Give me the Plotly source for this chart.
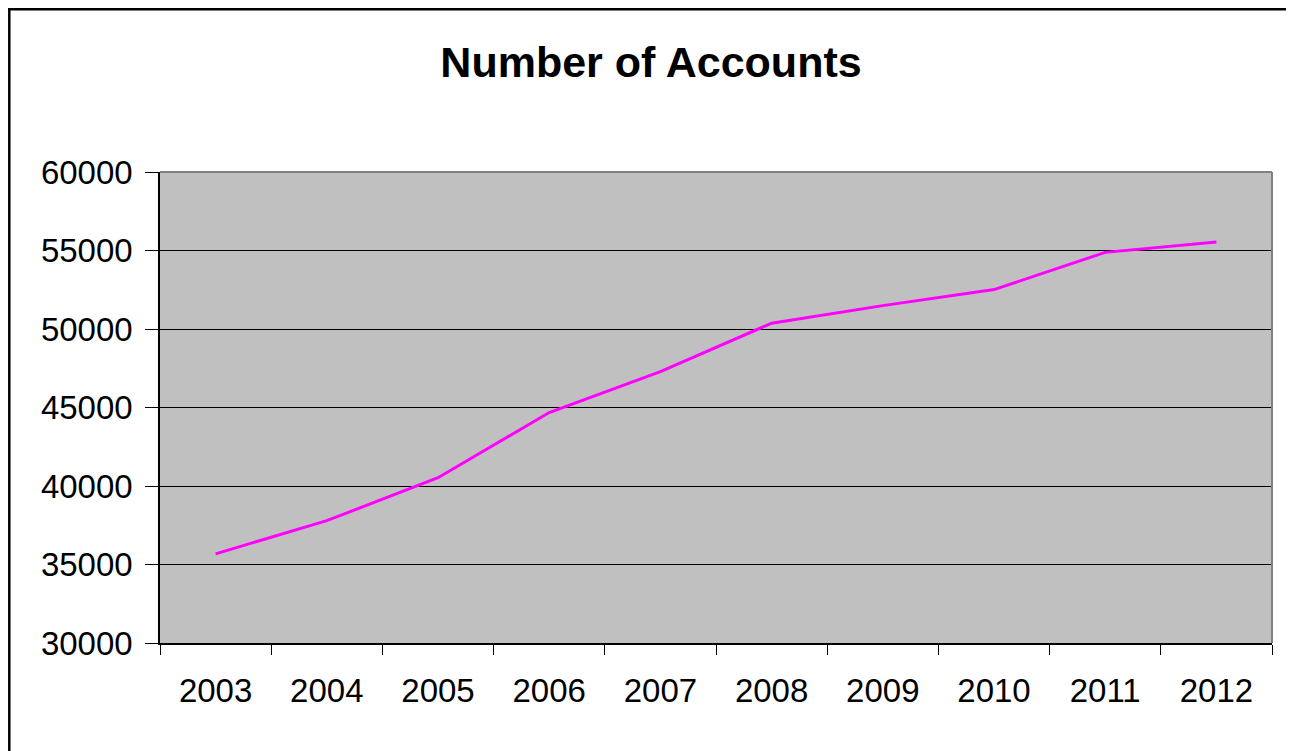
import plotly.graph_objects as go

years = ["2003", "2004", "2005", "2006", "2007", "2008", "2009", "2010", "2011", "2012"]
accounts = [35680, 37790, 40530, 44680, 47290, 50370, 51490, 52510, 54880, 55540]

# page body adds an 8px offset; figure size and margins compensate for it
W, H = 1286, 743
L, R, T, B = 152, 22, 164, 108
pw, ph = W - L - R, H - T - B

def px_to_paper_x(px):
    return (px - L) / pw

def px_to_paper_y(py):
    return (H - B - py) / ph

fig = go.Figure()
fig.add_trace(go.Scatter(
    x=years, y=accounts, mode="lines",
    line=dict(color="#FF00FF", width=3),
    showlegend=False, hoverinfo="x+y",
))

font_family = "Liberation Sans, Arial, sans-serif"

fig.update_layout(
    width=W, height=H,
    margin=dict(l=L, r=R, t=T, b=B, pad=0, autoexpand=False),
    paper_bgcolor="white",
    plot_bgcolor="#C0C0C0",
    font=dict(family=font_family, color="black", size=33),
    title=dict(
        text="<b>Number of Accounts</b>",
        font=dict(family=font_family, size=43, color="black"),
        x=643 / W, xanchor="center", xref="container",
        y=1 - 54 / H, yanchor="middle", yref="container",
    ),
    xaxis=dict(
        type="category",
        range=[-0.5, len(years) - 0.5],
        automargin=False,
        showgrid=False,
        showline=True, linecolor="black", linewidth=1.5,
        ticks="outside", tickson="boundaries", ticklen=10,
        tickcolor="black", tickwidth=1,
        tickfont=dict(size=33),
        ticklabelstandoff=18,
        zeroline=False,
    ),
    yaxis=dict(
        range=[30000, 60000], dtick=5000, tick0=30000,
        automargin=False,
        tickformat="d",
        showgrid=True, gridcolor="black", gridwidth=1,
        showline=True, linecolor="black", linewidth=1.5,
        ticks="outside", ticklen=13, tickcolor="black", tickwidth=1,
        tickfont=dict(size=33),
        ticklabelstandoff=6,
        zeroline=False,
    ),
    shapes=[
        # grey top and right border of the plot area
        dict(type="line", xref="paper", yref="paper", x0=0, x1=1, y0=1, y1=1,
             line=dict(color="#808080", width=2), layer="above"),
        dict(type="line", xref="paper", yref="paper", x0=1, x1=1, y0=0, y1=1,
             line=dict(color="#808080", width=2), layer="above"),
        # outer chart border (top and left visible)
        dict(type="line", xref="paper", yref="paper",
             x0=px_to_paper_x(0), x1=px_to_paper_x(W + 5),
             y0=px_to_paper_y(1.3), y1=px_to_paper_y(1.3),
             line=dict(color="black", width=2.5), layer="above"),
        dict(type="line", xref="paper", yref="paper",
             x0=px_to_paper_x(1.3), x1=px_to_paper_x(1.3),
             y0=px_to_paper_y(0), y1=px_to_paper_y(H + 5),
             line=dict(color="black", width=2.5), layer="above"),
    ],
)

fig.write_html("out.html")
